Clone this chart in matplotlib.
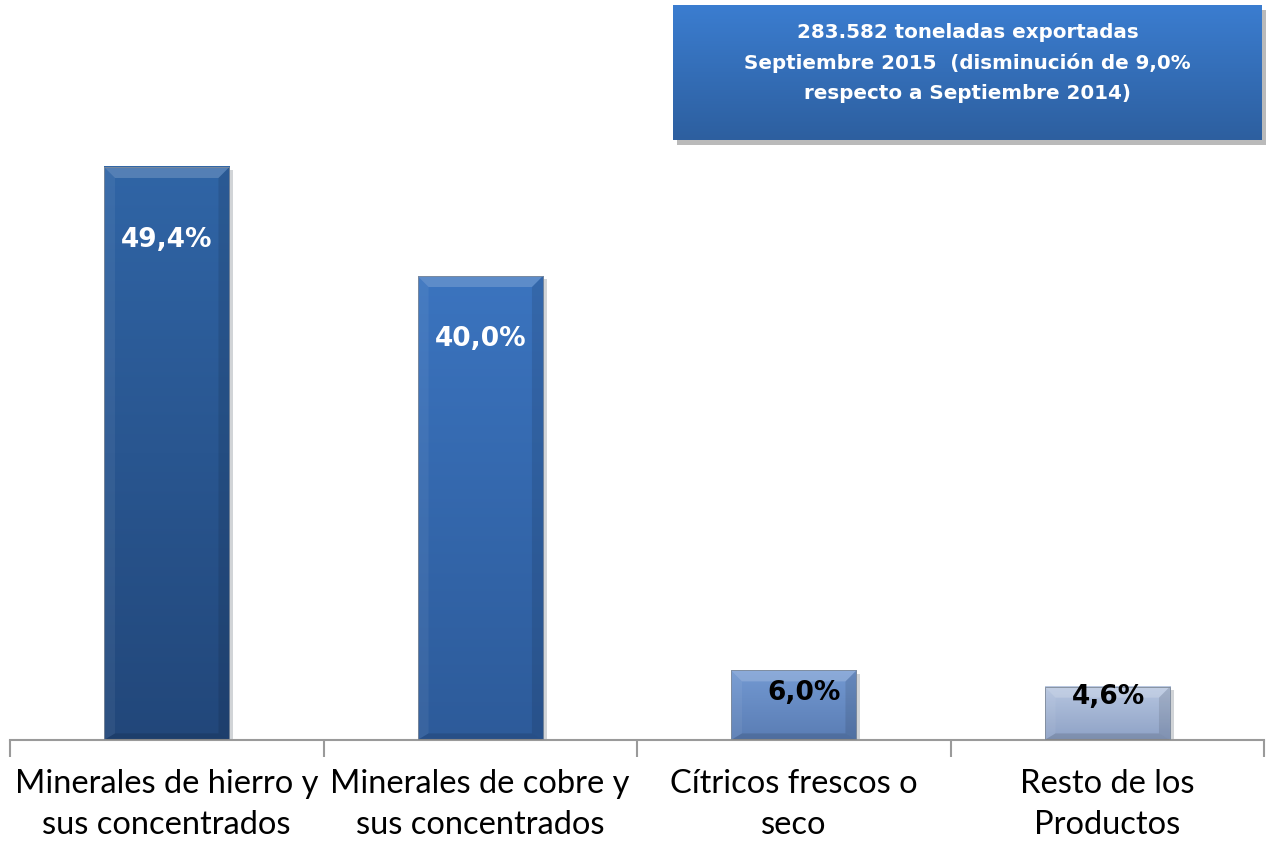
import numpy as np
import matplotlib.pyplot as plt
from matplotlib.patches import Rectangle, Polygon
from matplotlib.colors import LinearSegmentedColormap

# Data
categories = ["Minerales de hierro y\nsus concentrados",
              "Minerales de cobre y\nsus concentrados",
              "Cítricos frescos o\nseco",
              "Resto de los\nProductos"]
shares = [49.4, 40.0, 6.0, 4.6]
labels = ["49,4%", "40,0%", "6,0%", "4,6%"]
title_lines = "283.582 toneladas exportadas\nSeptiembre 2015  (disminución de 9,0%\nrespecto a Septiembre 2014)"

# bar colours (top, bottom) and label style
bar_top = ["#3065a6", "#3b74bf", "#7399d2", "#b7c6e0"]
bar_bot = ["#22477a", "#2d5b9a", "#5a7db4", "#8ea2c6"]
label_color = ["white", "white", "black", "black"]
label_dy = [-73, -63, -23, -10]      # pixels relative to bar top
label_dx = [0, 0, 10, 1]

W, H = 1267, 841
fig = plt.figure(figsize=(W / 100, H / 100), dpi=100)
ax = fig.add_axes([10 / W, 101 / H, 1254 / W, 740 / H])
ax.set_xlim(-0.5, 3.5)
ax.set_ylim(0, 740 / 11.6)

x = np.arange(len(categories))
width = 0.40
grad = np.linspace(0, 1, 256).reshape(-1, 1)

for i, v in enumerate(shares):
    x0 = x[i] - width / 2
    # shadow
    ax.add_patch(Rectangle((x0 + 0.012, -0.3), width, v, facecolor="#9aa0a8",
                           edgecolor="none", alpha=0.45, zorder=1))
    cmap = LinearSegmentedColormap.from_list("b%d" % i, [bar_top[i], bar_bot[i]])
    ax.imshow(grad, extent=(x0, x0 + width, 0, v), aspect="auto", cmap=cmap,
              origin="upper", zorder=2)
    # bevel: lighter top, darker sides/bottom
    bx, by = 0.035, 0.95
    ax.add_patch(Polygon([(x0, v), (x0 + width, v), (x0 + width - bx, v - by), (x0 + bx, v - by)],
                         closed=True, facecolor="white", alpha=0.18, edgecolor="none", zorder=3))
    ax.add_patch(Polygon([(x0, 0), (x0 + bx, by * 0.6), (x0 + bx, v - by), (x0, v)],
                         closed=True, facecolor="white", alpha=0.06, edgecolor="none", zorder=3))
    ax.add_patch(Polygon([(x0 + width, 0), (x0 + width - bx, by * 0.6), (x0 + width - bx, v - by), (x0 + width, v)],
                         closed=True, facecolor="black", alpha=0.10, edgecolor="none", zorder=3))
    ax.add_patch(Polygon([(x0, 0), (x0 + width, 0), (x0 + width - bx, by * 0.6), (x0 + bx, by * 0.6)],
                         closed=True, facecolor="black", alpha=0.12, edgecolor="none", zorder=3))
    ax.add_patch(Rectangle((x0, 0), width, v, facecolor="none", edgecolor="#7f8a99",
                           linewidth=0.6, zorder=4))
    ax.annotate(labels[i], (x[i], v), xytext=(label_dx[i], label_dy[i]),
                textcoords="offset pixels", ha="center", va="center",
                fontsize=19, fontweight="bold", color=label_color[i],
                family=["DejaVu Sans"], zorder=5)

for s in ["top", "right", "left"]:
    ax.spines[s].set_visible(False)
ax.spines["bottom"].set_color("#9a9a9a")
ax.spines["bottom"].set_linewidth(1.5)
ax.set_yticks([])
ax.set_xticks(x)
ax.set_xticklabels(categories, fontsize=23.5, family=["Lato", "DejaVu Sans"],
                   linespacing=1.44)
ax.tick_params(axis="x", length=0, pad=21)
ax.set_xticks(np.arange(-0.5, 4, 1), minor=True)
ax.tick_params(axis="x", which="minor", length=12, color="#9a9a9a", width=1.5)

# title box with shadow
fig.patches.append(Rectangle((677 / W, 1 - 145 / H), 589 / W, 135 / H, transform=fig.transFigure,
                             facecolor="#8c8c8c", alpha=0.6, edgecolor="none", zorder=1))
bax = fig.add_axes([673 / W, 1 - 140 / H, 589 / W, 135 / H], zorder=3)
bax.set_xlim(0, 1)
bax.set_ylim(0, 1)
bax.axis("off")
box_cmap = LinearSegmentedColormap.from_list("box", ["#3b7dd0", "#2d5f9f"])
bax.imshow(grad, extent=(0, 1, 0, 1), aspect="auto", cmap=box_cmap, origin="upper")
bax.text(0.5, 0.57, title_lines, ha="center", va="center", color="white",
         fontsize=14.3, fontweight="bold", linespacing=1.7,
         family=["DejaVu Sans"])

fig.savefig("out.png", dpi=100)
